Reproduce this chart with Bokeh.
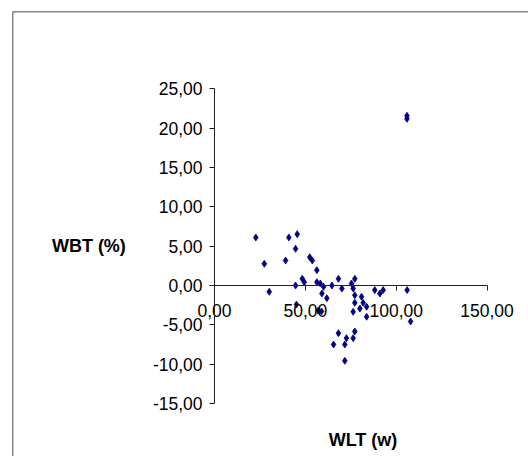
from bokeh.plotting import figure
from bokeh.models import (LinearAxis, FixedTicker, Range1d, ColumnDataSource,
                          Span, Label)
from bokeh.embed import file_html
from bokeh.resources import INLINE

# ---- data ----
wlt = [22.7, 27.4, 30.1, 39.1, 40.9, 45.5, 44.6, 44.6, 45.1, 48.3,
       49.4, 52.4, 53.8, 56.3, 56.3, 58.2, 60.0, 59.1, 61.8, 57.0,
       58.9, 64.6, 68.2, 70.1, 75.4, 76.3, 77.2, 77.2, 80.9, 77.2,
       81.8, 80.0, 76.3, 83.7, 83.7, 88.2, 91.0, 92.8, 106.0, 107.9,
       77.2, 68.2, 72.6, 76.3, 65.5, 71.7, 71.7, 105.9, 105.9]
wbt = [6.11, 2.76, -0.80, 3.18, 6.11, 6.53, 4.67, 0.00, -2.42, 0.85,
       0.42, 3.60, 3.18, 1.95, 0.42, 0.25, -0.17, -1.02, -1.61, -3.20,
       -3.30, 0.00, 0.85, -0.38, 0.25, -0.38, 0.85, -1.23, -1.44, -2.20,
       -2.20, -2.93, -3.35, -2.71, -3.98, -0.59, -1.02, -0.59, -0.59, -4.58,
       -5.85, -6.07, -6.70, -6.70, -7.51, -7.51, -9.58, 21.6, 21.2]

x_ticks = [0, 50, 100, 150]
x_tick_labels = ["0,00", "50,00", "100,00", "150,00"]
y_ticks = [-15, -10, -5, 0, 5, 10, 15, 20, 25]
y_tick_labels = ["-15,00", "-10,00", "-5,00", "0,00", "5,00",
                 "10,00", "15,00", "20,00", "25,00"]
x_title = "WLT (w)"
y_title = "WBT (%)"

FONT = "Liberation Sans"
LABEL_SIZE = "17.5px"
TITLE_SIZE = "18px"

src = ColumnDataSource(data=dict(wlt=wlt, wbt=wbt))

# the plot frame starts at the chart-area border (12px left, 11px top)
X0, X1 = -111.2, 172.8
Y0, Y1 = -21.76, 34.86
p = figure(width=528, height=456, output_backend="svg", toolbar_location=None,
           x_axis_location=None, y_axis_location=None,
           x_range=Range1d(X0, X1), y_range=Range1d(Y0, Y1),
           min_border_left=12, min_border_top=11,
           min_border_right=0, min_border_bottom=0,
           background_fill_color="white",
           border_fill_color="white", outline_line_color=None)
p.grid.grid_line_color = None

xaxis = LinearAxis(fixed_location=0, bounds=(min(x_ticks), max(x_ticks)),
                   ticker=FixedTicker(ticks=x_ticks),
                   major_label_overrides={float(t): s for t, s in zip(x_ticks, x_tick_labels)})
yaxis = LinearAxis(fixed_location=0, bounds=(min(y_ticks), max(y_ticks)),
                   ticker=FixedTicker(ticks=y_ticks),
                   major_label_overrides={float(t): s for t, s in zip(y_ticks, y_tick_labels)})

for ax in (xaxis, yaxis):
    ax.axis_line_color = "#222222"
    ax.axis_line_width = 1
    ax.major_tick_line_color = "#222222"
    ax.major_tick_in = 0
    ax.major_tick_out = 5
    ax.minor_tick_in = 0
    ax.minor_tick_out = 0
    ax.major_label_text_font = FONT
    ax.major_label_text_font_size = LABEL_SIZE
    ax.major_label_text_color = "black"

xaxis.major_label_standoff = 14
yaxis.major_label_standoff = 7
yaxis.axis_label = y_title
yaxis.axis_label_orientation = "horizontal"
yaxis.axis_label_text_font = FONT
yaxis.axis_label_text_font_size = TITLE_SIZE
yaxis.axis_label_text_font_style = "bold"
yaxis.axis_label_text_color = "black"
yaxis.axis_label_standoff = 24

p.add_layout(xaxis, "below")
p.add_layout(yaxis, "left")

p.scatter(x="wlt", y="wbt", source=src, marker="diamond", size=7,
          fill_color="#000080", line_color="#000080", line_width=0.8)

p.add_layout(Label(x=81.7, y=-19.6, text=x_title, text_align="center",
                   text_baseline="middle", text_font=FONT,
                   text_font_size=TITLE_SIZE, text_font_style="bold",
                   text_color="black"))

# outer chart-area border: left and top edges of the frame
p.add_layout(Span(location=X0, dimension="height",
                  line_color="#111111", line_width=1.5))
p.add_layout(Span(location=Y1, dimension="width",
                  line_color="#111111", line_width=1.5))

open("out.html", "w").write(file_html(p, INLINE))
